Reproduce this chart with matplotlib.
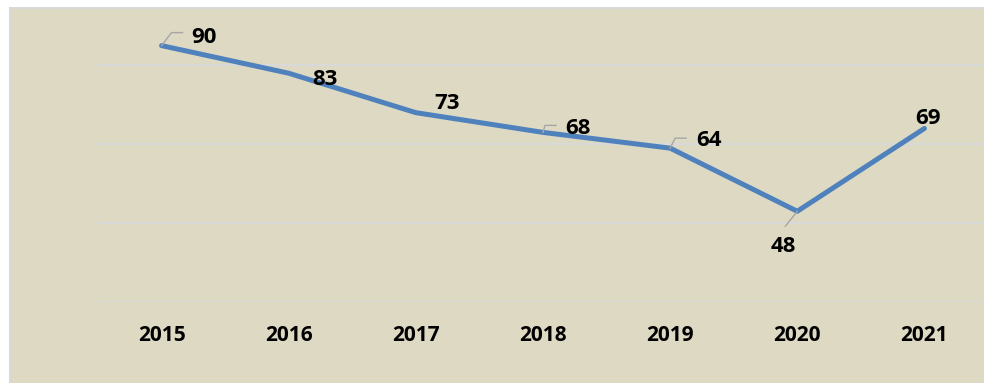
import matplotlib.pyplot as plt
from matplotlib.patches import Rectangle
from matplotlib.lines import Line2D

years = ['2015', '2016', '2017', '2018', '2019', '2020', '2021']
values = [90, 83, 73, 68, 64, 48, 69]

# label offsets in pixels (dx, dy) from the point, and leader polylines
label_offsets = [(42, 8), (36, -6), (31, 9), (35, 4), (39, 8), (-14, -35), (4, 10)]
leaders = {
    0: [(0, 0), (10, 13), (21, 13)],
    3: [(0, 0), (2, 7), (13, 7)],
    4: [(0, 0), (5, 10), (16, 10)],
    5: [(0, 0), (-12, -15)],
}

W, H = 984, 383
FONT = 'Open Sans'
fig = plt.figure(figsize=(W / 100, H / 100), dpi=100)
fig.patch.set_facecolor('white')

# outer chart area
bg = Rectangle((10 / W, -0.1), 1.2, 1.1 - 8 / H, transform=fig.transFigure,
               facecolor='#DDD9C3', edgecolor='#D9D9D9', linewidth=1.5, zorder=-5)
fig.add_artist(bg)

ax = fig.add_axes([98 / W, 1 - 302 / H, 890 / W, (302 - 18) / H])
ax.set_zorder(1)
ax.set_facecolor('none')
x = list(range(len(years)))
ax.set_xlim(-0.5, 6.5)
ax.set_ylim(25, 97)
ax.set_yticks([25, 45, 65, 85])
ax.yaxis.grid(True, color='#D9D9D9', linewidth=1.5)
ax.set_axisbelow(True)
for s in ax.spines.values():
    s.set_visible(False)
ax.tick_params(left=False, labelleft=False, bottom=False, pad=13)
ax.set_xticks(x)
ax.set_xticklabels(years, fontsize=15, fontweight='bold', family=FONT)

ax.plot(x, values, color='#4F81BD', linewidth=3.6,
        solid_capstyle='round', solid_joinstyle='round', zorder=3)

for i, v in enumerate(values):
    dx, dy = label_offsets[i]
    ax.annotate(str(v), (i, v), xytext=(dx, dy), textcoords='offset pixels',
                ha='center', va='center', fontsize=16, fontweight='bold',
                family=FONT, color='black', zorder=5)

fig.canvas.draw()
for i, pts in leaders.items():
    px, py = ax.transData.transform((i, values[i]))
    xs = [px + p[0] for p in pts]
    ys = [py + p[1] for p in pts]
    fig.add_artist(Line2D(xs, ys, transform=None, color='#A6A6A6',
                          linewidth=1.0, zorder=4))

fig.savefig('out.png', dpi=100, facecolor=fig.get_facecolor())
